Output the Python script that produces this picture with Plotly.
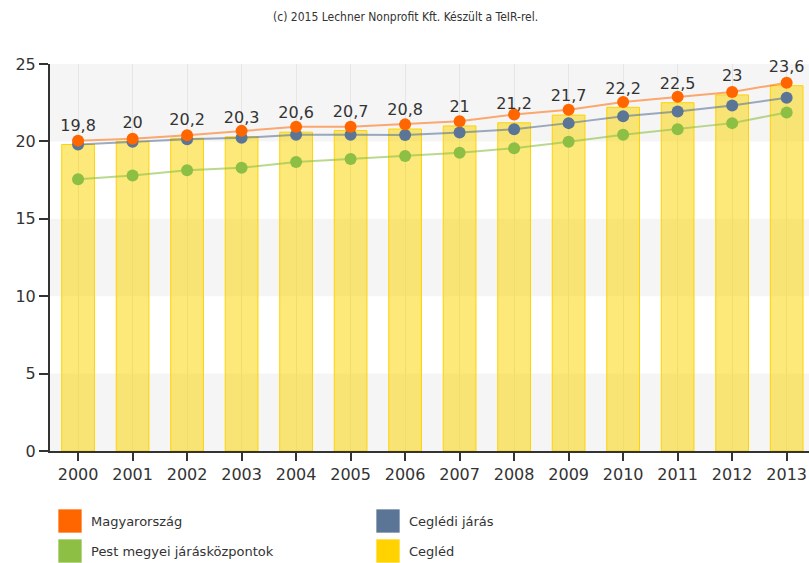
import plotly.graph_objects as go

years = ["2000", "2001", "2002", "2003", "2004", "2005", "2006", "2007",
         "2008", "2009", "2010", "2011", "2012", "2013"]
cegled = [19.8, 20, 20.2, 20.3, 20.6, 20.7, 20.8, 21, 21.2, 21.7, 22.2, 22.5, 23, 23.6]
magyarorszag = [20.05, 20.17, 20.4, 20.68, 20.94, 20.94, 21.1, 21.3, 21.74, 22.04, 22.54, 22.88, 23.19, 23.79]
cegledi_jaras = [19.8, 19.97, 20.14, 20.23, 20.43, 20.43, 20.42, 20.57, 20.79, 21.18, 21.63, 21.93, 22.32, 22.82]
pest_kozpontok = [17.55, 17.8, 18.13, 18.3, 18.67, 18.87, 19.05, 19.26, 19.56, 19.97, 20.43, 20.79, 21.18, 21.87]
cegled_labels = ["19,8", "20", "20,2", "20,3", "20,6", "20,7", "20,8", "21", "21,2", "21,7", "22,2", "22,5", "23", "23,6"]
y_ticks = [0, 5, 10, 15, 20, 25]

names = ["Magyarország", "Ceglédi járás", "Pest megyei járásközpontok", "Cegléd"]
marker_colors = ["#ff6600", "#5b7596", "#8cbf44", "#ffd200"]
line_colors = ["rgba(255,102,0,0.55)", "rgba(91,117,150,0.6)", "rgba(140,191,68,0.6)"]

# figure geometry (page body margin removed below, so page px == figure px)
W, H = 809, 563
ML, MT, MB = 50, 64, 112
PW = W - ML
PH = H - MT - MB


def xp(px):
    return (px - ML) / PW


def yp(py):
    return (H - MB - py) / PH


fig = go.Figure()
idx = list(range(len(years)))

fig.add_trace(go.Bar(x=idx, y=cegled, name=names[3], width=0.6,
                     marker=dict(color="rgba(250,212,0,0.52)",
                                 line=dict(color="#ffd200", width=1)),
                     showlegend=False, hoverinfo="y"))

for vals, nm, mc, lc in [(pest_kozpontok, names[2], marker_colors[2], line_colors[2]),
                         (cegledi_jaras, names[1], marker_colors[1], line_colors[1]),
                         (magyarorszag, names[0], marker_colors[0], line_colors[0])]:
    fig.add_trace(go.Scatter(x=idx, y=vals, name=nm, mode="lines+markers",
                             line=dict(color=lc, width=2),
                             marker=dict(color=mc, size=12),
                             showlegend=False))

fig.add_trace(go.Scatter(x=idx, y=cegled, mode="markers+text", text=cegled_labels,
                         textposition="top center",
                         marker=dict(size=14, color="rgba(0,0,0,0)"),
                         textfont=dict(family="DejaVu Sans", size=16, color="#333333"),
                         showlegend=False, hoverinfo="skip", cliponaxis=False))

shapes = []
for lo in [0, 10, 20]:
    shapes.append(dict(type="rect", xref="paper", yref="y", x0=0, x1=1, y0=lo, y1=lo + 5,
                       fillcolor="#f5f5f5", line=dict(width=0), layer="below"))

annotations = [dict(text="(c) 2015 Lechner Nonprofit Kft. Készült a TeIR-rel.",
                    xref="paper", yref="paper", x=xp(405), y=yp(17),
                    xanchor="center", yanchor="middle", showarrow=False,
                    font=dict(family="DejaVu Sans Condensed", size=12, color="#333333"))]

legend_pos = [(58, 509), (376, 509), (58, 539), (376, 539)]
for (px, py), nm, mc in zip(legend_pos, names, marker_colors):
    shapes.append(dict(type="rect", xref="paper", yref="paper",
                       x0=xp(px), x1=xp(px + 24),
                       y0=yp(py + 24), y1=yp(py),
                       fillcolor=mc, line=dict(color="rgba(255,255,255,0.7)", width=1)))
    annotations.append(dict(text=nm, xref="paper", yref="paper",
                            x=xp(px + 31), y=yp(py + 12),
                            xanchor="left", yanchor="middle", showarrow=False,
                            font=dict(family="DejaVu Sans", size=13, color="#333333")))

fig.update_layout(
    width=W, height=H,
    margin=dict(l=ML, r=0, t=MT, b=MB),
    plot_bgcolor="white", paper_bgcolor="white",
    shapes=shapes, annotations=annotations,
    xaxis=dict(tickmode="array", tickvals=idx, ticktext=years, range=[-0.515, 13.41],
               showline=True, linecolor="#333333", linewidth=2,
               ticks="outside", ticklen=8, tickcolor="#333333", tickwidth=2,
               showgrid=True, gridcolor="#e6e6e6", gridwidth=1,
               tickfont=dict(family="DejaVu Sans", size=16, color="#333333"),
               zeroline=False, fixedrange=True),
    yaxis=dict(range=[0, 25], tickvals=y_ticks,
               showline=True, linecolor="#333333", linewidth=2,
               ticks="outside", ticklen=9, tickcolor="#333333", tickwidth=2,
               showgrid=False, zeroline=False,
               tickfont=dict(family="DejaVu Sans", size=16, color="#333333"),
               fixedrange=True),
    font=dict(family="DejaVu Sans", color="#333333"),
)

fig.write_html("out.html",
               config={"displayModeBar": False},
               post_script="document.body.style.margin='0';document.body.style.overflow='hidden';")
